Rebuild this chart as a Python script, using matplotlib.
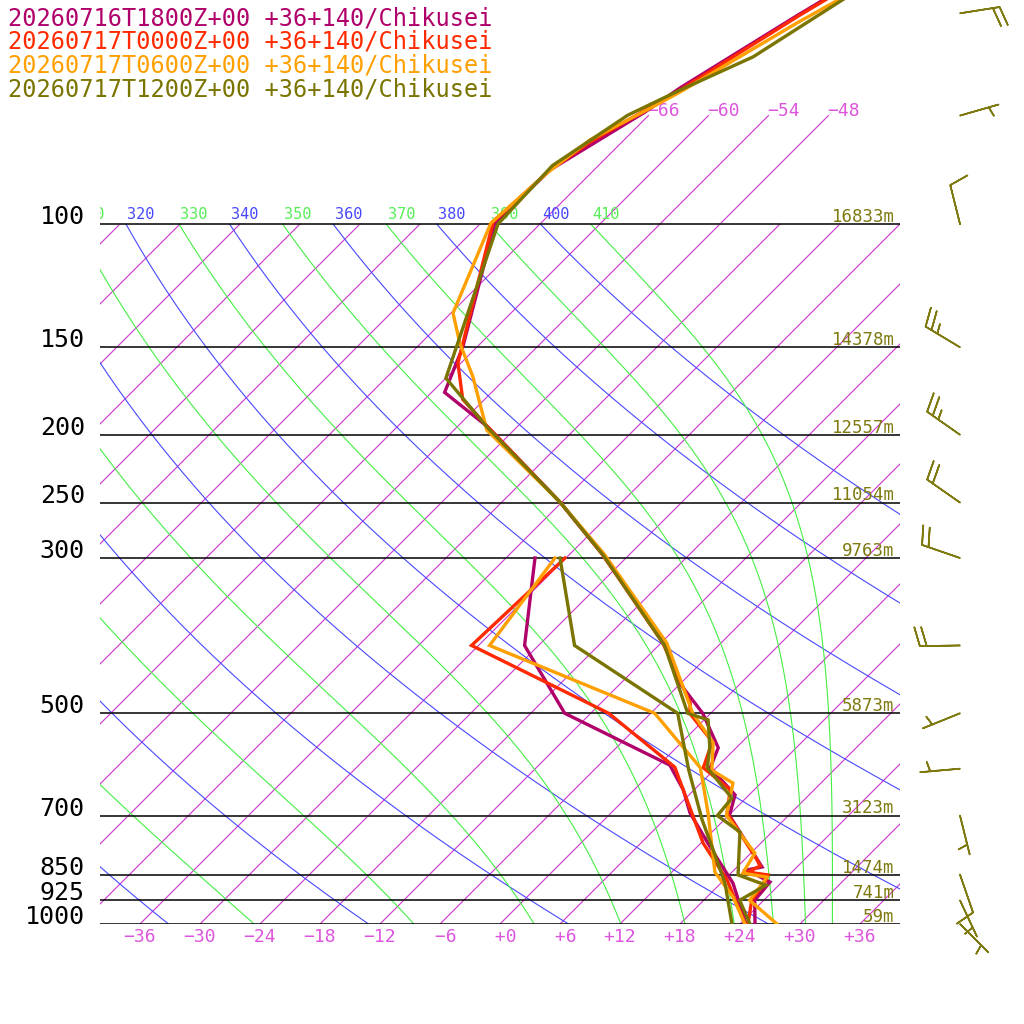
import numpy as np
import matplotlib
matplotlib.use("Agg")
import matplotlib.pyplot as plt

# ---------------- data ----------------
legend_labels = [
    "20260716T1800Z+00 +36+140/Chikusei",
    "20260717T0000Z+00 +36+140/Chikusei",
    "20260717T0600Z+00 +36+140/Chikusei",
    "20260717T1200Z+00 +36+140/Chikusei",
]
series_colors = ["#b0006a", "#ff2a00", "#ffa000", "#7a7400"]

# 2026-07-16 18Z
s1_temp_p = [46.3, 50.3, 63.9, 69.2, 83.7, 99.7, 150, 174, 195, 250, 296, 397, 448, 500, 560, 598, 654, 700, 739, 829, 837, 871, 925, 1000]
s1_temp_t = [-59.4, -61.1, -65.6, -66.7, -70.4, -70.6, -61.4, -58.7, -50.9, -36.1, -26.8, -11.6, -6.7, -0.8, 4.2, 5.4, 10.6, 12.1, 14.8, 20.5, 19.3, 22.8, 23.1, 25.5]
s1_dew_p = [300, 400, 500, 593, 643, 694, 784, 874, 1000]
s1_dew_t = [-33.1, -25.4, -14.6, 1.1, 4.9, 7.9, 13.8, 19.2, 24.6]

# 2026-07-17 00Z
s2_temp_p = [46.3, 50.3, 64.4, 76.4, 83.7, 99.3, 158, 178, 195, 250, 296, 397, 483, 500, 549, 598, 643, 694, 805, 826, 843, 851, 871, 925, 1000]
s2_temp_t = [-59.2, -60.9, -65.4, -69.2, -70.4, -70.9, -60.3, -56.2, -50.9, -36.1, -26.8, -11.8, -3.1, -2.1, 3.0, 4.7, 9.6, 11.6, 19.0, 20.2, 19.6, 21.9, 22.3, 22.8, 24.8]
s2_dew_p = [300, 400, 500, 597, 665, 766, 865, 1000]
s2_dew_t = [-30.1, -30.7, -10.2, 1.8, 6.3, 12.2, 18.3, 24.5]

# 2026-07-17 06Z
s3_temp_p = [46.3, 51.6, 64.8, 68.7, 75.8, 84.6, 99.7, 134, 148, 165, 197, 250, 296, 397, 500, 551, 603, 629, 700, 792, 846, 857, 865, 925, 1000]
s3_temp_t = [-57.8, -60.4, -65.2, -66.7, -69.4, -70.4, -71.0, -65.8, -62.1, -57.5, -50.7, -36.1, -26.6, -11.4, -1.8, 3.2, 5.8, 9.2, 11.8, 18.4, 19.2, 22.0, 22.1, 22.6, 27.7]
s3_dew_p = [300, 400, 500, 598, 694, 843, 915, 1000]
s3_dew_t = [-31.1, -28.9, -5.6, 4.4, 9.7, 16.3, 20.6, 24.5]

# 2026-07-17 12Z
s4_temp_p = [46.3, 57.7, 64.4, 69.9, 82.5, 100, 166, 195, 250, 297, 400, 500, 511, 559, 598, 661, 700, 739, 851, 880, 925, 1000]
s4_temp_t = [-57.6, -61.4, -65.4, -68.1, -70.6, -70.2, -60.0, -51.0, -36.1, -26.6, -11.4, -2.3, 0.4, 3.3, 5.1, 10.6, 10.9, 14.8, 18.9, 22.7, 21.6, 25.0]
s4_dew_p = [300, 400, 500, 603, 710, 776, 874, 1000]
s4_dew_t = [-30.6, -20.4, -3.3, 3.5, 9.8, 13.5, 18.4, 23.2]

pressure_levels = [1000, 925, 850, 700, 500, 300, 250, 200, 150, 100]
pressure_labels = ["1000", "925", "850", "700", "500", "300", "250", "200", "150", "100"]
height_labels = ["59m", "741m", "1474m", "3123m", "5873m", "9763m", "11054m", "12557m", "14378m", "16833m"]

temp_ticks = [-36, -30, -24, -18, -12, -6, 0, 6, 12, 18, 24, 30, 36]
isotherm_values = list(range(-108, 37, 6))
upper_isotherms = [-66, -60, -54, -48]
dry_thetas = list(range(240, 401, 20))
moist_thetas = list(range(250, 411, 20))

wind_p = [50, 70, 100, 150, 200, 250, 300, 400, 500, 600, 700, 850, 925, 1000]
wind_dir = [81, 74, 346, 301, 305, 305, 289, 269, 248, 265, 166, 161, 155, 135]
wind_spd = [20, 5, 10, 25, 25, 20, 20, 20, 5, 5, 5, 10, 5, 5]

# ---------------- styles ----------------
FONT = "DejaVu Sans Mono"
ISO_C = "#cc33cc"
ISO_TXT = "#dd55dd"
DRY_C = "#4848ff"
MOIST_C = "#44ee44"
OLIVE = "#7f7a10"
SKEW = 30.4
P_TOP = 1000 * np.exp(-924 / 304)


def sx(t, p):
    return np.asarray(t, dtype=float) + SKEW * np.log(1000.0 / np.asarray(p, dtype=float))


def theta_e(tk, p):
    tc = tk - 273.15
    es = 6.112 * np.exp(17.67 * tc / (tc + 243.5))
    r = 622.0 * es / (p - es)
    return tk * (1000.0 / p) ** (0.2854 * (1 - 0.00028 * r)) * np.exp((3.376 / tk - 0.00254) * r * (1 + 0.00081 * r))


def moist_t(the, p):
    lo = np.full_like(p, 150.0)
    hi = np.full_like(p, 310.0)
    for _ in range(60):
        mid = 0.5 * (lo + hi)
        f = theta_e(mid, p) - the
        lo = np.where(f < 0, mid, lo)
        hi = np.where(f < 0, hi, mid)
    return 0.5 * (lo + hi)


fig = plt.figure(figsize=(10.24, 10.24), dpi=100)
ax = fig.add_axes([100 / 1024, 100 / 1024, 800 / 1024, 924 / 1024])
ax.set_yscale("log")
ax.set_ylim(1000, P_TOP)
ax.set_xlim(-40, 40)
ax.axis("off")

# isotherms
pp = np.array([1000.0, 100.0])
for t in isotherm_values:
    ax.plot(sx(t, pp), pp, color=ISO_C, lw=0.8, zorder=1)
pu = np.array([100.0, 70.0])
for t in upper_isotherms:
    ax.plot(sx(t, pu), pu, color=ISO_C, lw=0.8, zorder=1)
    ax.text(float(sx(t, 70.0)) - 0.1, 69.0, f"{t:d}".replace("-", "\u2212"),
            ha="left", va="center", color=ISO_TXT, fontsize=13, family=FONT)


def theta_label(x100, text, color):
    # only labels whose crossing of the 100 hPa line is (nearly) inside the box
    if x100 < -43 or x100 > 37:
        return
    ax.annotate(text, xy=(x100, 100.0), xytext=(1, 3.5),
                textcoords="offset points", ha="left", va="baseline", color=color,
                fontsize=11, family=FONT, annotation_clip=False, clip_on=True)


pg = np.geomspace(1000, 100, 150)
# dry adiabats
for th in dry_thetas:
    tk = th * (pg / 1000.0) ** 0.2857
    ax.plot(sx(tk - 273.15, pg), pg, color=DRY_C, lw=0.8, zorder=1)
    theta_label(float(sx(tk[-1] - 273.15, 100.0)), str(th), DRY_C)
# moist adiabats
for th in moist_thetas:
    tk = moist_t(float(th), pg)
    ax.plot(sx(tk - 273.15, pg), pg, color=MOIST_C, lw=0.8, zorder=1)
    theta_label(float(sx(tk[-1] - 273.15, 100.0)), str(th), "#55ee55")

# pressure levels
for p, lab, h in zip(pressure_levels, pressure_labels, height_labels):
    ax.axhline(p, color="black", lw=1.1, zorder=2)
    ax.annotate(lab, xy=(0, p), xycoords=("axes fraction", "data"), xytext=(-11, 0),
                textcoords="offset points", ha="right", va="baseline", fontsize=18,
                family=FONT, color="black", annotation_clip=False)
    ax.annotate(h, xy=(1, p), xycoords=("axes fraction", "data"), xytext=(-4, 1.5),
                textcoords="offset points", ha="right", va="baseline", fontsize=12.5,
                family=FONT, color=OLIVE, annotation_clip=False, zorder=3)

# bottom temperature labels
for t in temp_ticks:
    lab = f"{t:+d}".replace("-", "\u2212").rjust(3)
    ax.annotate(lab, xy=(t, 0), xycoords=("data", "axes fraction"), xytext=(0, -9.5),
                textcoords="offset points", ha="center", va="center", fontsize=13,
                family=FONT, color=ISO_TXT, annotation_clip=False)

# soundings
soundings = [
    (s1_temp_p, s1_temp_t, s1_dew_p, s1_dew_t),
    (s2_temp_p, s2_temp_t, s2_dew_p, s2_dew_t),
    (s3_temp_p, s3_temp_t, s3_dew_p, s3_dew_t),
    (s4_temp_p, s4_temp_t, s4_dew_p, s4_dew_t),
]
for (tp, tt, dp, dt), c in zip(soundings, series_colors):
    ax.plot(sx(tt, tp), tp, color=c, lw=2.4, zorder=5, solid_joinstyle="miter")
    ax.plot(sx(dt, dp), dp, color=c, lw=2.4, zorder=5, solid_joinstyle="miter")

# legend text
for i, (lab, c) in enumerate(zip(legend_labels, series_colors)):
    fig.text(8 / 1024, 1 - (25 + 23.7 * i) / 1024, lab, color=c, fontsize=17,
             family=FONT, ha="left", va="baseline")

# wind barbs
ax2 = fig.add_axes([900 / 1024, 100 / 1024, 124 / 1024, 924 / 1024])
ax2.set_yscale("log")
ax2.set_ylim(1000, P_TOP)
ax2.set_xlim(-60, 64)
ax2.axis("off")
d = np.deg2rad(np.array(wind_dir, dtype=float))
s = np.array(wind_spd, dtype=float)
u = -s * np.sin(d)
v = -s * np.cos(d)
ax2.barbs(np.zeros(len(wind_p)), wind_p, u, v, length=7.6, color=OLIVE, linewidth=1.2,
          sizes=dict(spacing=0.17, height=0.47, width=0.26), clip_on=False)

fig.savefig("out.png", dpi=100, facecolor="white")
